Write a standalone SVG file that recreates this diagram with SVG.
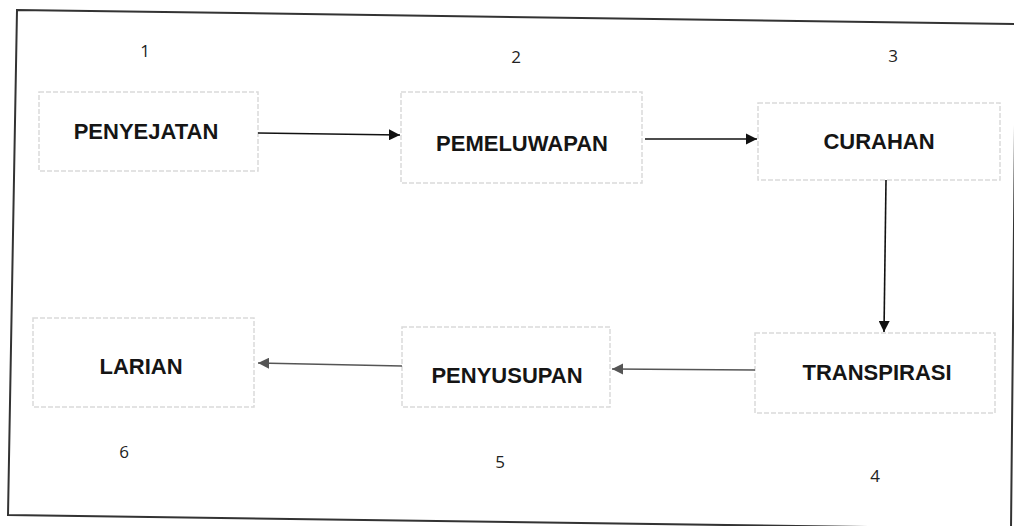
<svg xmlns="http://www.w3.org/2000/svg" width="1014" height="526" viewBox="0 0 1014 526">
<style>
.frame{fill:none;stroke:#333;stroke-width:2}
.box{fill:#fff;stroke:#dadada;stroke-width:1.5;stroke-dasharray:5 2}
.lbl{font-family:"Liberation Sans",Arial,sans-serif;font-weight:bold;font-size:22px;fill:#151515;text-anchor:middle}
.num{font-family:"Open Sans","Liberation Sans",sans-serif;font-size:17px;fill:#222;text-anchor:middle}
.c1{fill:none;stroke:#111;stroke-width:1.6}
.c2{fill:none;stroke:#555;stroke-width:1.6}
</style>
<defs>
<marker id="ah" viewBox="0 0 10 10" refX="10" refY="5" markerWidth="7" markerHeight="7" markerUnits="strokeWidth" orient="auto">
<path d="M0,0 L10,5 L0,10 z" fill="#111"/>
</marker>
<marker id="ah2" viewBox="0 0 10 10" refX="10" refY="5" markerWidth="7" markerHeight="7" markerUnits="strokeWidth" orient="auto">
<path d="M0,0 L10,5 L0,10 z" fill="#555"/>
</marker>
</defs>
<rect width="1014" height="526" fill="#fff"/>
<polygon class="frame" points="17,10 1016,24 1011,529 8,515"/>
<g id="node1">
<rect class="box" x="39" y="92" width="219" height="79"/>
<text class="lbl" x="146" y="139">PENYEJATAN</text>
<text class="num" x="145" y="57">1</text>
</g>
<g id="node2">
<rect class="box" x="401" y="92" width="241" height="91"/>
<text class="lbl" x="522" y="151">PEMELUWAPAN</text>
<text class="num" x="516" y="63">2</text>
</g>
<g id="node3">
<rect class="box" x="758" y="103" width="242" height="77"/>
<text class="lbl" x="879" y="149">CURAHAN</text>
<text class="num" x="893" y="62">3</text>
</g>
<g id="node4">
<rect class="box" x="755" y="333" width="240" height="80"/>
<text class="lbl" x="877" y="380">TRANSPIRASI</text>
<text class="num" x="875" y="482">4</text>
</g>
<g id="node5">
<rect class="box" x="402" y="327" width="208" height="80"/>
<text class="lbl" x="507" y="383">PENYUSUPAN</text>
<text class="num" x="500" y="468">5</text>
</g>
<g id="node6">
<rect class="box" x="33" y="318" width="221" height="89"/>
<text class="lbl" x="141" y="374">LARIAN</text>
<text class="num" x="124" y="458">6</text>
</g>
<g id="connectors">
<path class="c1" d="M258,133 L400,135" marker-end="url(#ah)"/>
<path class="c1" d="M645,139 L757,139" marker-end="url(#ah)"/>
<path class="c1" d="M886,180 L884,332" marker-end="url(#ah)"/>
<path class="c2" d="M755,370 L612,369" marker-end="url(#ah2)"/>
<path class="c2" d="M402,366 L258,363" marker-end="url(#ah2)"/>
</g>
</svg>
